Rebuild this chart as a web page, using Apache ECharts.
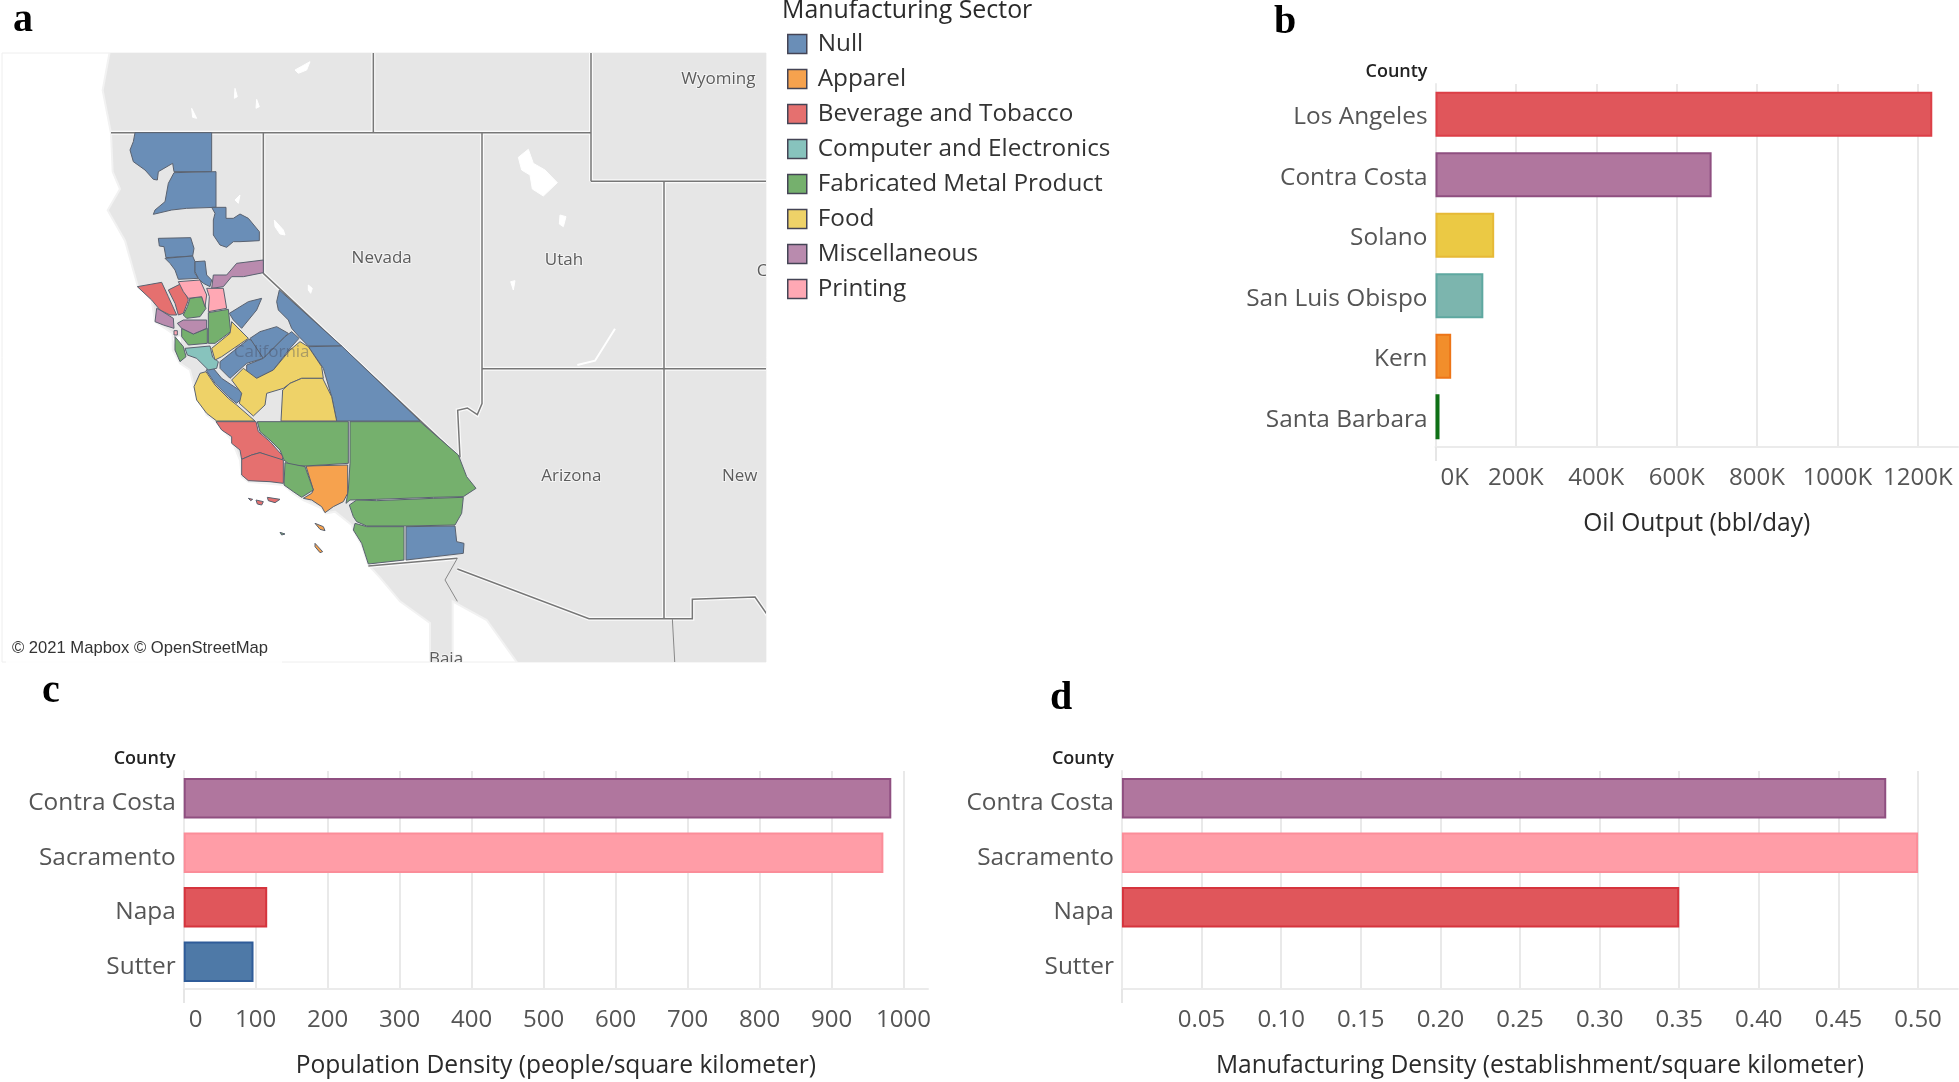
<!DOCTYPE html>
<html><head><meta charset="utf-8">
<style>html,body{margin:0;padding:0;background:#fff}#c{width:1959px;height:1082px}</style>
<script src="https://cdn.jsdelivr.net/npm/echarts@6/dist/echarts.min.js"></script>
</head><body><div id="c"></div>
<script>
// ---- bar data ----
const oilCounties = ['Los Angeles','Contra Costa','Solano','San Luis Obispo','Kern','Santa Barbara'];
const oilValues = [1236000,687000,146000,119000,39000,10000];
const popCounties = ['Contra Costa','Sacramento','Napa','Sutter'];
const popValues = [983,972,116,97];
const mfgCounties = ['Contra Costa','Sacramento','Napa','Sutter'];
const mfgValues = [0.48,0.50,0.35,null];
// ---- map data (county outlines, in projected map units) ----
const sectors = ['Null','Apparel','Beverage and Tobacco','Computer and Electronics','Fabricated Metal Product','Food','Miscellaneous','Printing'];
const nullCounties = [
 [[105,38],[335,38],[335,155],[222,155],[218,130],[175,155],[172,180],[160,178],[135,150],[100,125],[90,90],[100,65]],
 [[222,158],[348,155],[348,262],[260,265],[215,270],[160,283],[165,270],[195,245],[205,190]],
 [[335,262],[378,262],[378,295],[400,295],[420,282],[445,295],[478,335],[478,362],[420,365],[400,365],[380,382],[360,375],[340,345],[340,300],[345,280]],
 [[175,355],[272,353],[282,385],[278,408],[198,413],[192,380],[178,378]],
 [[195,415],[278,408],[285,425],[285,460],[295,475],[235,478],[225,450],[210,430]],
 [[285,425],[315,423],[320,465],[335,480],[330,500],[310,490],[295,475],[285,455]],
 [[388,580],[445,545],[485,535],[470,570],[425,625],[400,600]],
 [[360,725],[445,658],[455,660],[490,715],[440,730],[390,775],[360,745]],
 [[450,655],[480,635],[530,620],[565,640],[555,650],[490,715]],
 [[440,735],[490,715],[555,650],[575,635],[597,655],[570,685],[520,750],[470,775],[440,760]],
 [[318,750],[340,745],[365,775],[425,815],[425,835],[410,850],[385,830],[345,790]],
 [[538,510],[725,678],[625,678],[597,650],[575,625],[565,600],[535,570],[530,545]],
 [[625,680],[725,678],[960,903],[710,903],[695,830],[670,745]],
 [[918,1220],[1065,1218],[1070,1265],[1092,1270],[1090,1300],[918,1320]]
];
const apparelCounties = [
 [[618,1038],[743,1035],[743,1120],[730,1145],[700,1160],[675,1178],[665,1160],[635,1140],[610,1135],[635,1120],[640,1110]],
 [[645,1210],[670,1220],[675,1232],[660,1228]],
 [[645,1270],[668,1295],[660,1298],[645,1280]]
];
const beverageCounties = [
 [[112,500],[185,487],[205,530],[230,585],[210,585],[180,570],[155,540]],
 [[205,510],[245,490],[265,540],[250,580],[235,585],[225,550]],
 [[348,905],[468,905],[475,935],[510,965],[550,1010],[545,1022],[480,998],[455,1005],[425,1018],[420,990],[395,970],[395,950],[365,930]],
 [[425,1018],[455,1005],[480,998],[550,1020],[550,1090],[510,1085],[445,1082],[425,1065]],
 [[445,1135],[458,1138],[452,1142]],
 [[468,1140],[490,1145],[485,1155],[472,1152]],
 [[502,1132],[540,1138],[525,1148],[505,1142]]
];
const computerCounties = [
 [[255,685],[330,678],[338,712],[355,725],[350,745],[325,750],[290,715],[262,705]]
];
const metalCounties = [
 [[270,535],[305,530],[318,565],[300,590],[260,595],[250,585],[262,560]],
 [[245,625],[280,642],[322,625],[322,670],[265,675],[245,650]],
 [[325,578],[385,568],[392,635],[345,670],[325,670]],
 [[225,650],[250,680],[258,710],[240,725],[225,690]],
 [[472,905],[745,905],[745,1030],[615,1038],[570,1035],[552,1020],[540,990],[510,960],[480,935]],
 [[750,905],[960,905],[1075,1005],[1100,1070],[1128,1105],[1090,1130],[1000,1132],[830,1138],[750,1140],[738,1150],[745,1110],[750,1030]],
 [[748,1155],[770,1140],[830,1142],[1000,1135],[1090,1132],[1085,1180],[1065,1215],[920,1218],[800,1218],[770,1205],[760,1190]],
 [[765,1210],[800,1220],[912,1220],[912,1320],[805,1332],[785,1270],[760,1230]],
 [[555,1028],[615,1040],[640,1110],[605,1132],[580,1115],[552,1095]],
 [[540,1237],[555,1242],[545,1245]]
];
const foodCounties = [
 [[395,605],[445,655],[365,710],[345,720],[335,685],[390,640]],
 [[600,665],[625,680],[665,740],[670,775],[605,775],[570,790],[550,805],[500,820],[495,855],[460,888],[418,850],[425,820],[395,780],[430,745],[470,775],[520,750],[570,690]],
 [[570,790],[605,775],[668,775],[695,830],[710,903],[543,903],[548,810]],
 [[300,760],[318,755],[345,795],[385,835],[410,855],[465,903],[350,903],[320,880],[290,840],[282,800]]
];
const miscCounties = [
 [[335,505],[340,465],[380,465],[410,430],[490,420],[490,458],[430,470],[395,470],[370,500]],
 [[170,565],[180,570],[220,595],[222,625],[190,615],[165,605]],
 [[232,610],[250,600],[320,600],[320,625],[280,642],[245,625]]
];
const printingCounties = [
 [[235,485],[300,480],[320,525],[315,560],[305,530],[265,535],[250,515]],
 [[320,505],[370,505],[380,565],[325,575],[328,530]],
 [[222,632],[232,632],[232,645],[222,645]]
];
const landOutline = [[30,-210],[8,-89],[33,40],[38,155],[60,207],[23,271],[75,362],[113,497],[155,540],[165,605],[218,640],[218,690],[240,730],[270,750],[282,800],[320,885],[348,905],[395,960],[420,1020],[425,1070],[445,1085],[550,1095],[580,1120],[610,1140],[665,1165],[678,1180],[705,1175],[755,1215],[760,1230],[785,1275],[805,1335],[840,1373],[900,1444],[990,1509],[990,1640],[1058,1640],[1058,1444],[1160,1500],[1260,1640],[2010,1640],[2010,-210]];
const lakes = [
 [[1255,112],[1285,88],[1300,130],[1335,150],[1372,188],[1330,228],[1297,207],[1290,165],[1265,150]],
 [[523,300],[550,330],[555,345],[540,342],[525,320]],
 [[625,495],[637,505],[632,520],[625,510]],
 [[585,-150],[630,-175],[620,-150],[595,-140]],
 [[405,-95],[412,-70],[403,-65]],
 [[470,-62],[478,-40],[468,-35]],
 [[275,-35],[290,-5],[278,-8]],
 [[1380,285],[1398,290],[1390,320],[1378,312]],
 [[1232,485],[1245,482],[1240,510]],
 [[405,240],[420,225],[415,250]],
 [[220,655],[240,650],[242,690],[228,680]]
];
const stateLines = [
 [[820,-210],[820,38]],
 [[1473,-210],[1473,184]],
 [[33,38],[1473,38]],
 [[1473,184],[2010,184]],
 [[490,38],[490,460],[1078,1012]],
 [[1146,38],[1146,851],[1132,884],[1102,864],[1073,871],[1080,1012]],
 [[1146,746],[2010,746]],
 [[1692,184],[1692,1496]],
 [[805,1338],[1072,1315]],
 [[1072,1347],[1467,1496],[1777,1496],[1777,1438],[1965,1431],[2010,1496]]
];
const thinLines = [
 [[1072,1315],[1035,1380],[1072,1444]],
 [[1717,1496],[1725,1640]]
];
const whiteLines = [[[1545,626],[1485,722],[1432,735]]];
const placeLabels = [
 ['Wyoming',1855,-124,'center'],['Nevada',845,415,'center'],['Utah',1392,420,'center'],
 ['Arizona',1414,1068,'center'],['New',1866,1068,'left'],['C',1986,453,'center'],['Baja',1038,1617,'center']
];
const stateLabel = ['California',515,695];
const sectorCounties = [nullCounties,apparelCounties,beverageCounties,computerCounties,metalCounties,foodCounties,miscCounties,printingCounties];
const sectorColors = ['#6a8eb7','#f6a24e','#e5706f','#87c3bd','#75b06d','#eed268','#b98bae','#ffa8b4'];
const countyFill = {'Los Angeles':'#e0565b','Contra Costa':'#b0769e','Solano':'#ebc944','San Luis Obispo':'#7cb5ae','Kern':'#f28e2b','Santa Barbara':'#2a8a30','Sacramento':'#ff9da7','Napa':'#e0565b','Sutter':'#4e79a7'};
const countyEdge = {'Los Angeles':'#dc3f47','Contra Costa':'#8f4f80','Solano':'#e6b936','San Luis Obispo':'#5ea8a0','Kern':'#ed7518','Santa Barbara':'#0f7016','Sacramento':'#fb8d99','Napa':'#d5343d','Sutter':'#2f5c99'};

const uiFont = '"Open Sans"';
function polySeries(name,polys,fill,stroke,lw,z){
  return {type:'custom',name,xAxisIndex:0,yAxisIndex:0,coordinateSystem:'cartesian2d',clip:true,silent:true,z,
    itemStyle:{color:fill},
    data:polys.map((_,i)=>[i,0]),
    renderItem:(p,api)=>({type:'polygon',shape:{points:polys[p.dataIndex].map(q=>api.coord(q))},style:{fill,stroke,lineWidth:lw}})};
}
function lineSeries(name,lines,stroke,lw,z){
  return {type:'custom',name,xAxisIndex:0,yAxisIndex:0,coordinateSystem:'cartesian2d',clip:true,silent:true,z,
    data:lines.map((_,i)=>[i,0]),
    renderItem:(p,api)=>({type:'polyline',shape:{points:lines[p.dataIndex].map(q=>api.coord(q))},style:{fill:null,stroke,lineWidth:lw}})};
}
function textSeries(name,rows,fill,halo,z){
  return {type:'custom',name,xAxisIndex:0,yAxisIndex:0,coordinateSystem:'cartesian2d',clip:true,silent:true,z,
    data:rows.map((_,i)=>[i,0]),
    renderItem:(p,api)=>{const r=rows[p.dataIndex],q=api.coord([r[1],r[2]]);
      return {type:'text',x:q[0],y:q[1],style:{text:r[0],fill,font:'17px '+uiFont,align:r[3]||'center',verticalAlign:'middle',stroke:halo,lineWidth:halo?2:0}};}};
}
function barPanel(i,cats,vals,axisName,max,interval,fmt,gap,labelDrop){
  return {
    x:{type:'value',gridIndex:i,min:0,max,interval,name:axisName,nameLocation:'middle',nameGap:gap,
       nameTextStyle:{fontFamily:uiFont,fontSize:24.6,color:'#2a2a2a',verticalAlign:'middle'},
       axisLine:{show:true,onZero:false,lineStyle:{color:'#ebebeb',width:2}},
       axisTick:{show:false},
       axisLabel:{show:true,margin:19,fontFamily:uiFont,fontSize:24,color:'#555',formatter:fmt,alignMinLabel:'left',showMaxLabel:false,hideOverlap:false,
         rich:{z:{fontFamily:uiFont,fontSize:24,color:'#555',padding:[0,0,0,5]}}},
       splitLine:{show:true,showMaxLine:false,lineStyle:{color:'#e9e9e9',width:2}}},
    y:{type:'category',gridIndex:i,inverse:true,data:cats,name:'County',nameLocation:'start',nameGap:12,
       nameTextStyle:{fontFamily:uiFont,fontSize:18,fontWeight:600,color:'#222',align:'right',verticalAlign:'middle',padding:[0,8,0,0]},
       axisLine:{show:true,lineStyle:{color:'#ebebeb',width:2}},axisTick:{show:false},
       axisLabel:{margin:8,fontFamily:uiFont,fontSize:24.4,color:'#555',verticalAlign:'top',lineHeight:labelDrop*2},splitLine:{show:false}},
    s:{type:'bar',xAxisIndex:i,yAxisIndex:i,barCategoryGap:'26%',silent:true,z:3,
       data:vals.map((v,k)=>({value:v,itemStyle:{color:countyFill[cats[k]],borderColor:countyEdge[cats[k]],borderWidth:2}}))},
    zeroTick:{type:'value',gridIndex:i,min:0,max,position:'bottom',
       axisLine:{show:false},axisLabel:{show:false},splitLine:{show:false},
       axisTick:{show:true,customValues:[0],length:14,lineStyle:{color:'#e6e6e6',width:2}}}
  };
}
const kFmt=v=>v===0?'{z|0K}':(v/1000)+'K';
const b=barPanel(1,oilCounties,oilValues,'Oil Output (bbl/day)',1300000,200000,kFmt,77,3);
const c=barPanel(2,popCounties,popValues,'Population Density (people/square kilometer)',1034,100,v=>v===0?'{z|0}':String(v),77,5);
const d=barPanel(3,mfgCounties,mfgValues,'Manufacturing Density (establishment/square kilometer)',0.525,0.05,v=>v===0?'':v.toFixed(2),77,5);

const series=[
  polySeries('land',[landOutline],'#e6e6e6','#f2f2f2',2,1),
  polySeries('lakes',lakes,'#ffffff','#ffffff',1,2),
  lineSeries('white lines',whiteLines,'#ffffff',2,2),
  lineSeries('border halo',stateLines,'#fafafa',4,3),
  lineSeries('borders',stateLines,'#777777',1.5,4),
  lineSeries('thin borders',thinLines,'#888888',1,4),
  textSeries('places',placeLabels,'#5c5c5c','#f4f4f4',5),
  ...sectors.map((s,i)=>polySeries(s,sectorCounties[i],sectorColors[i],'#5a6270',1,6)),
  textSeries('state',[stateLabel],'rgba(70,75,95,0.4)',null,7),
  b.s,c.s,d.s
];

const letter=(t,x,y)=>({text:t,left:x,top:y,padding:0,textStyle:{fontFamily:'"Liberation Serif"',fontWeight:'bold',fontSize:40,color:'#000'}});
const option={
  animation:false,backgroundColor:'#fff',
  title:[letter('a',13,1),letter('b',1274,3),letter('c',42,672),letter('d',1050,679),
    {text:'Manufacturing Sector',left:782,top:-2,padding:0,textStyle:{fontFamily:uiFont,fontSize:24.9,fontWeight:'normal',color:'#2a2a2a'}}],
  legend:{data:sectors,orient:'vertical',left:787,top:32,itemWidth:19,itemHeight:19,itemGap:11,icon:'rect',padding:0,selectedMode:false,
    itemStyle:{borderColor:'#445',borderWidth:1.5},
    textStyle:{fontFamily:uiFont,fontSize:24.3,color:'#333',padding:[0,0,0,6],lineHeight:19}},
  grid:[
    {left:2,top:53,width:764,height:609,show:true,backgroundColor:'#fff',borderColor:'#eeeeee',borderWidth:1},
    {left:1435.5,top:84,width:522.5,height:363},
    {left:183.7,top:771,width:744.3,height:218},
    {left:1121.9,top:771,width:836,height:218}
  ],
  xAxis:[{type:'value',gridIndex:0,min:-294,max:1998,show:false},b.x,c.x,d.x,b.zeroTick,c.zeroTick,d.zeroTick],
  yAxis:[{type:'value',gridIndex:0,min:-201,max:1626,inverse:true,show:false},b.y,c.y,d.y],
  series,
  graphic:[
    {type:'rect',left:6,top:636,shape:{width:276,height:28},style:{fill:'rgba(255,255,255,0.85)'},z:50},
    {type:'text',left:12,top:640,style:{text:'© 2021 Mapbox © OpenStreetMap',fill:'#333',font:'16.6px "Liberation Sans"'},z:51}
  ]
};
const chart=echarts.init(document.getElementById('c'),null,{renderer:'canvas'});
chart.setOption(option);
</script></body></html>
